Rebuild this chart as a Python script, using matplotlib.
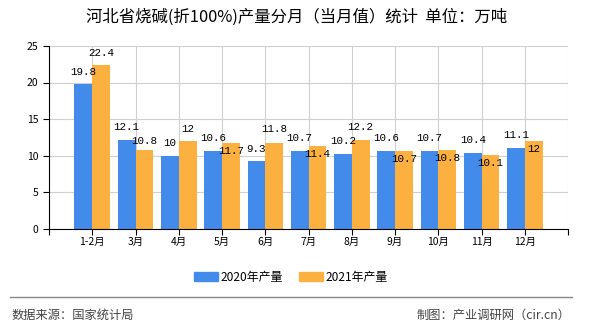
import numpy as np
import matplotlib
matplotlib.use('Agg')
import matplotlib.pyplot as plt
from matplotlib.lines import Line2D

plt.rcParams['font.family'] = ['Noto Sans CJK SC', 'DejaVu Sans']

# data
months = ['1-2月', '3月', '4月', '5月', '6月', '7月', '8月', '9月', '10月', '11月', '12月']
y2020 = [19.8, 12.1, 10, 10.6, 9.3, 10.7, 10.2, 10.6, 10.7, 10.4, 11.1]
y2021 = [22.4, 10.8, 12, 11.7, 11.8, 11.4, 12.2, 10.7, 10.8, 10.1, 12]
# label offsets in pixels (as placed in the original, some pushed inside the bar)
off2020 = [12, 13, 13, 13, 12, 13, 13, 13, 13, 13, 13]
off2021 = [12, 9, 12, -8, 14, -8, 13, -8, -8, -8, -8]

c_blue = '#428BEA'
c_orange = '#FBB040'

fig = plt.figure(figsize=(5.9, 3.3), dpi=100)
ax = fig.add_axes([0.083, 0.306, 0.88, 0.555])

x = np.arange(len(months))
w = 0.41
ax.bar(x - w / 2, y2020, w, color=c_blue, zorder=2)
ax.bar(x + w / 2, y2021, w, color=c_orange, zorder=2)

for xi, v, o in zip(x, y2020, off2020):
    ax.annotate(str(v), (xi - w / 2, v), xytext=(0, o), textcoords='offset pixels',
                ha='center', va='center', fontsize=7.8, family='Liberation Mono', zorder=3)
for xi, v, o in zip(x, y2021, off2021):
    ax.annotate(str(v), (xi + w / 2, v), xytext=(0, o), textcoords='offset pixels',
                ha='center', va='center', fontsize=7.8, family='Liberation Mono', zorder=3)

ax.set_xlim(-1, 11)
ax.set_ylim(0, 25)
ax.set_yticks([0, 5, 10, 15, 20, 25])
ax.set_xticks(np.arange(-1, 12))
ax.set_xticklabels([''] + months + [''])
ax.tick_params(axis='both', labelsize=7.5, length=4, width=0.8, color='black')
ax.tick_params(axis='x', pad=2)
ax.grid(True, color='#d0d0d0', linewidth=0.8, zorder=0)
for s in ['top', 'right']:
    ax.spines[s].set_visible(False)
ax.spines['left'].set_color('black')
ax.spines['bottom'].set_color('black')

fig.text(0.502, 0.948, '河北省烧碱(折100%)产量分月（当月值）统计  单位：万吨',
         ha='center', va='center', fontsize=11.8)

h = [plt.Rectangle((0, 0), 1, 1, color=c_blue), plt.Rectangle((0, 0), 1, 1, color=c_orange)]
fig.legend(h, ['2020年产量', '2021年产量'], loc='center', bbox_to_anchor=(0.493, 0.16),
           ncol=2, frameon=False, fontsize=8.6, handlelength=2.0, handleheight=0.7,
           columnspacing=1.3, handletextpad=0.25)

fig.add_artist(Line2D([0.017, 0.969], [0.1, 0.1], color='#888888', linewidth=1.0))
fig.text(0.02, 0.045, '数据来源：国家统计局', ha='left', va='center', fontsize=8.8, color='#444444')
fig.text(0.967, 0.045, '制图：产业调研网（cir.cn）', ha='right', va='center', fontsize=8.8, color='#444444')

fig.savefig('out.png', dpi=100)
